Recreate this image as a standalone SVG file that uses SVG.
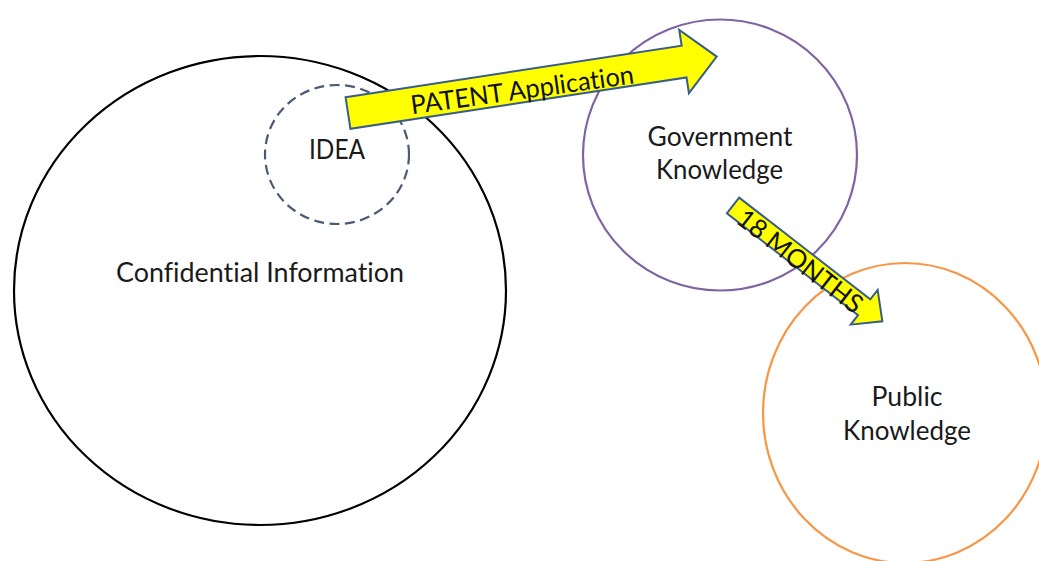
<svg xmlns="http://www.w3.org/2000/svg" width="1039" height="561" viewBox="0 0 1039 561">
  <style>
    .label { font-family: Lato, "Open Sans", "Liberation Sans", sans-serif; font-size: 26px; fill: #1a1a1a; text-anchor: middle; font-variant-ligatures: none; }
    .ring { fill: none; stroke-width: 2.2; }
    .block { fill: #ffff00; stroke: #385d8a; stroke-width: 2; stroke-linejoin: miter; }
    .arrow-text { font-family: Lato, "Open Sans", "Liberation Sans", sans-serif; font-size: 26px; fill: #111111; text-anchor: middle; font-variant-ligatures: none; }
  </style>
  <rect x="0" y="0" width="1039" height="561" fill="#ffffff"/>

  <!-- Confidential information: the large outer set -->
  <g id="confidential">
    <ellipse class="ring" cx="260" cy="290.5" rx="246" ry="234.5" stroke="#000000" stroke-width="2.4"/>
    <text class="label" x="260" y="282" textLength="288" lengthAdjust="spacingAndGlyphs">Confidential Information</text>
  </g>

  <!-- Idea: dashed subset inside the confidential set -->
  <g id="idea">
    <ellipse class="ring" cx="337" cy="154.5" rx="72" ry="69.5" stroke="#4a5a78" stroke-dasharray="10 5.5"/>
    <text class="label" x="337" y="159" textLength="56" lengthAdjust="spacingAndGlyphs">IDEA</text>
  </g>

  <!-- Government knowledge -->
  <g id="government">
    <ellipse class="ring" cx="720" cy="155" rx="137" ry="135.5" stroke="#8064a2"/>
    <text class="label" x="720" y="146" textLength="145" lengthAdjust="spacingAndGlyphs">Government</text>
    <text class="label" x="719.5" y="179" textLength="127" lengthAdjust="spacingAndGlyphs">Knowledge</text>
  </g>

  <!-- Public knowledge (runs past the right and bottom edges) -->
  <g id="public">
    <ellipse class="ring" cx="905" cy="413" rx="142" ry="150" stroke="#f79646"/>
    <text class="label" x="907" y="406" textLength="71" lengthAdjust="spacingAndGlyphs">Public</text>
    <text class="label" x="907" y="440" textLength="128" lengthAdjust="spacingAndGlyphs">Knowledge</text>
  </g>

  <!-- Block arrows between the sets -->
  <g id="connectors">
    <g id="patent-arrow" transform="translate(348,113) rotate(-8.7)">
      <polygon class="block" points="0,-16 340,-16 340,-32 373,0 340,32 340,16 0,16"/>
      <text class="arrow-text" x="175.5" y="12.5" transform="rotate(0.8 175.5 12.5)" textLength="225" lengthAdjust="spacingAndGlyphs">PATENT Application</text>
    </g>
    <g id="months-arrow" transform="translate(733,205.5) rotate(37.8)">
      <polygon class="block" points="0,-10 166,-10 166,-22 189,0 166,22 166,10 0,10"/>
      <text class="arrow-text" x="87" y="12" textLength="151" lengthAdjust="spacingAndGlyphs">18 MONTHS</text>
    </g>
  </g>
</svg>
